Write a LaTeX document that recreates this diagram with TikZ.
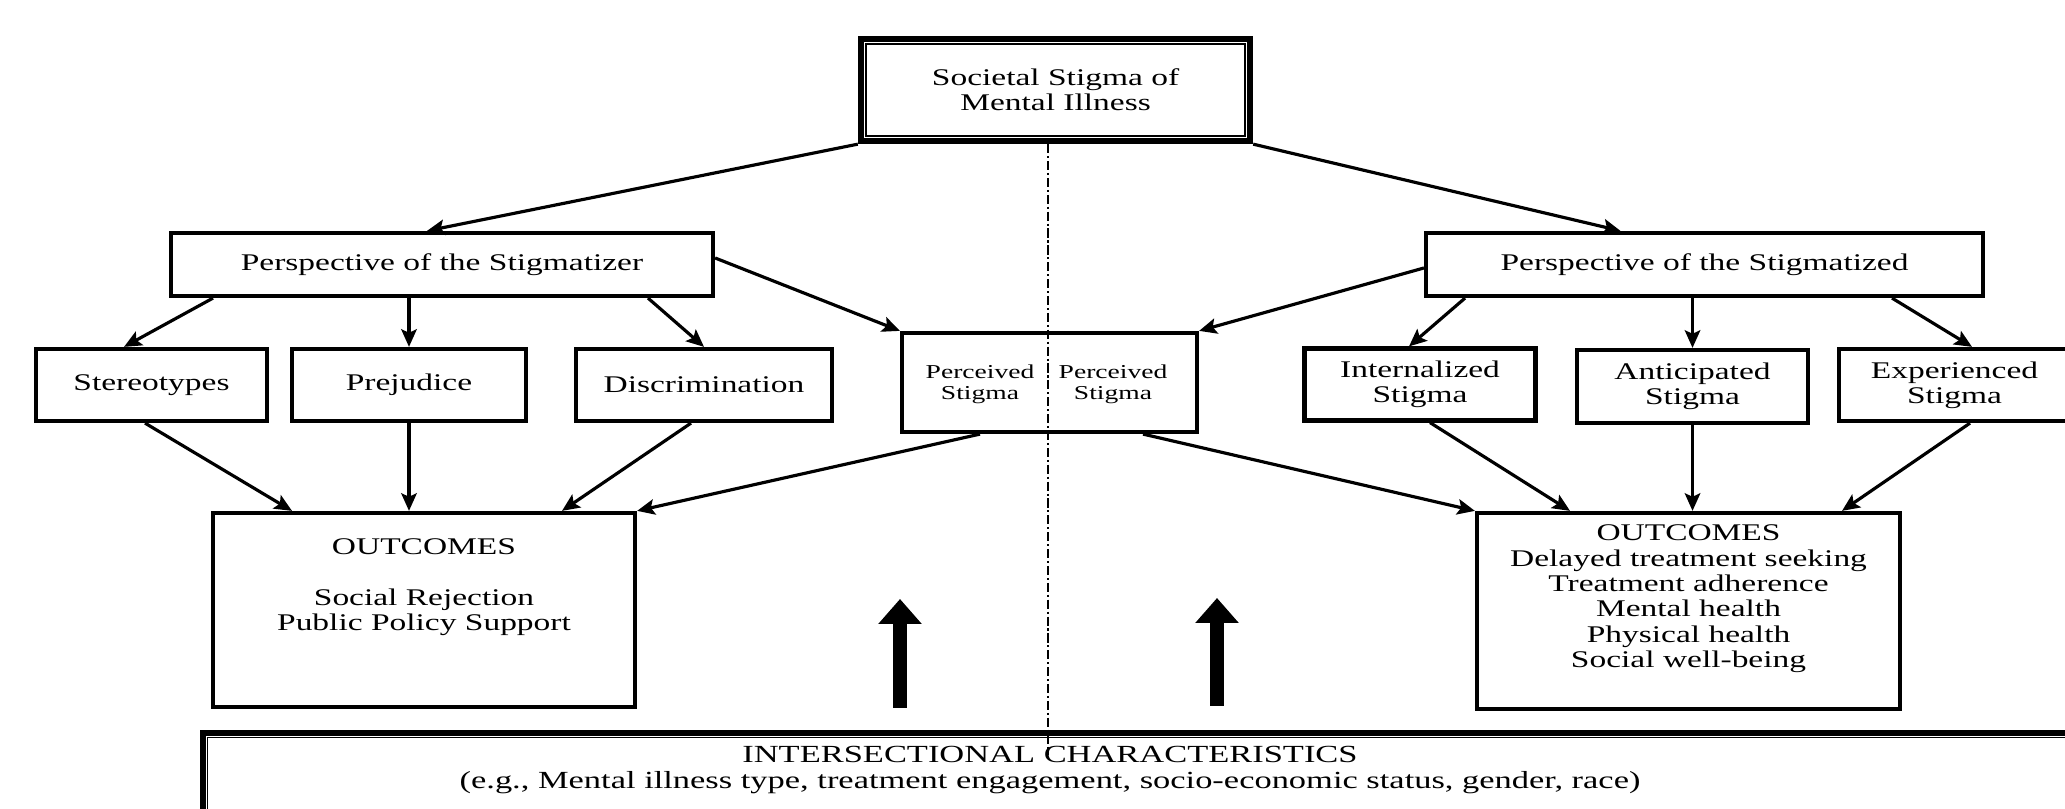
\documentclass[tikz,border=0pt]{standalone}
\usepackage{fontspec}
\setmainfont{Liberation Serif}[FakeStretch=1.4]
\usetikzlibrary{arrows.meta}

\begin{document}
\begin{tikzpicture}[every node/.style={inner sep=0pt,align=center,font=\fontsize{6.8}{7.2}\selectfont},
  box/.style={draw,line width=1.2pt},
  cell/.style={box,minimum width=2.31cm,minimum height=0.72cm},
  arr/.style={line width=0.9pt,-{Stealth[length=5pt,width=4.4pt,inset=1pt]}},
  bigup/.style={line width=0.14cm,-{Triangle[length=0.25cm,width=0.42cm]}}]
\useasboundingbox (0,0) rectangle (20.65,8.09);
\clip (0,0) rectangle (20.65,8.09);

\node[draw,line width=1.8pt,minimum width=3.89cm,minimum height=1.02cm] (soc) at (10.555,7.19) {Societal Stigma of\\Mental Illness};
\draw[line width=0.6pt] ([shift={(0.085,0.085)}]soc.south west) rectangle ([shift={(-0.085,-0.085)}]soc.north east);

\node[box,minimum width=5.42cm,minimum height=0.63cm] (pstz) at (4.42,5.445) {Perspective of the Stigmatizer};
\node[box,minimum width=5.57cm,minimum height=0.63cm] (pstd) at (17.045,5.445) {Perspective of the Stigmatized};

\node[cell] (ster) at (1.515,4.24) {Stereotypes};
\node[cell,minimum width=2.34cm] (prej) at (4.09,4.24) {Prejudice};
\node[cell,minimum width=2.56cm] (disc) at (7.04,4.24) {Discrimination};
\node[box,minimum width=2.95cm,minimum height=0.99cm] (perc) at (10.495,4.265) {};
\node[font=\fontsize{5.6}{6}\selectfont] (percL) at (9.80,4.25) {Perceived\\Stigma};
\node[font=\fontsize{5.6}{6}\selectfont] (percR) at (11.13,4.25) {Perceived\\Stigma};
\node[cell] (intz) at (14.2,4.245) {Internalized\\Stigma};
\node[cell,minimum height=0.73cm] (antc) at (16.925,4.225) {Anticipated\\Stigma};
\node[cell] (expd) at (19.545,4.24) {Experienced\\Stigma};

\node[box,minimum width=4.22cm,minimum height=1.94cm] (outL) at (4.24,1.99) {};
\node[anchor=north] (outLtxt) at ([yshift=-0.275cm]outL.north) {OUTCOMES\\[7.2pt]Social Rejection\\Public Policy Support};
\node[box,minimum width=4.23cm,minimum height=1.96cm] (outR) at (16.885,1.98) {};
\node[anchor=north] (outRtxt) at ([yshift=-0.135cm]outR.north) {OUTCOMES\\Delayed treatment seeking\\Treatment adherence\\Mental health\\Physical health\\Social well-being};

\node[draw,line width=1.6pt,anchor=north west,minimum width=19.5cm,minimum height=1.5cm] (inter) at (2.0,0.79) {};
\draw[line width=0.5pt] ([shift={(0.075,0.075)}]inter.south west) rectangle ([shift={(-0.075,-0.075)}]inter.north east);
\node[font=\fontsize{7}{7.2}\selectfont] (intertxt) at (10.50,0.39) {INTERSECTIONAL CHARACTERISTICS\\(e.g., Mental illness type, treatment engagement, socio-economic status, gender, race)};

\coordinate (axisB) at (10.48,0.54);
\draw[line width=0.7pt,dash pattern=on 2.6pt off 0.8pt on 0.6pt off 0.8pt] (soc.south -| axisB) -- (axisB);

\coordinate (liftL) at (9.00,1.01);
\coordinate (liftLtip) at (9.00,2.10);
\coordinate (liftR) at (12.17,1.03);
\coordinate (liftRtip) at (12.17,2.11);
\draw[bigup] (liftL) -- (liftLtip);
\draw[bigup] (liftR) -- (liftRtip);

\draw[arr] (soc.south west) -- ([xshift=-0.15cm]pstz.north);
\draw[arr] (soc.south east) -- ([xshift=-0.84cm]pstd.north);

\draw[arr] ([xshift=-2.29cm]pstz.south) -- ([xshift=-0.275cm]ster.north);
\draw[arr] (pstz.south -| prej) -- (prej.north);
\draw[arr] ([xshift=2.06cm]pstz.south) -- (disc.north);
\draw[arr] ([yshift=0.065cm]pstz.east) -- (perc.north west);
\draw[arr] ([yshift=-0.035cm]pstd.west) -- (perc.north east);
\draw[arr] ([xshift=-2.395cm]pstd.south) -- ([xshift=-0.11cm]intz.north);
\draw[arr] (pstd.south -| antc) -- (antc.north);
\draw[arr] ([xshift=1.875cm]pstd.south) -- ([xshift=0.175cm]expd.north);

\draw[arr] ([xshift=-0.065cm]ster.south) -- ([xshift=-1.32cm]outL.north);
\draw[arr] (prej.south) -- (prej.south |- outL.north);
\draw[arr] ([xshift=-0.13cm]disc.south) -- ([xshift=1.38cm]outL.north);
\draw[arr] ([xshift=-0.695cm]perc.south) -- (outL.north east);
\draw[arr] ([xshift=0.935cm]perc.south) -- (outR.north west);
\draw[arr] ([xshift=0.1cm]intz.south) -- ([xshift=-1.185cm]outR.north);
\draw[arr] (antc.south) -- (antc.south |- outR.north);
\draw[arr] ([xshift=0.155cm]expd.south) -- ([xshift=1.535cm]outR.north);

\end{tikzpicture}
\end{document}
